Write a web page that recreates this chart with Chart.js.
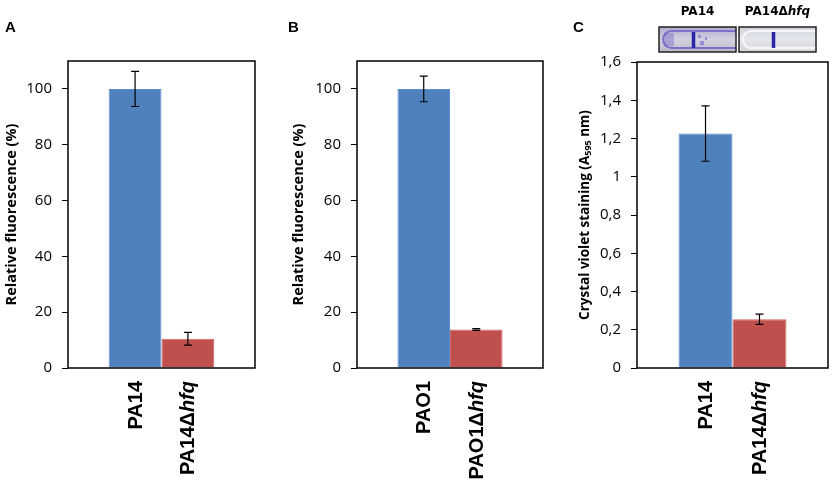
<!DOCTYPE html>
<html>
<head>
<meta charset="utf-8">
<script src="https://cdn.jsdelivr.net/npm/chart.js@4.4.0/dist/chart.umd.min.js"></script>
<style>
  body { margin: 0; background: #fff; }
  #wrap { position: relative; width: 832px; height: 486px; overflow: hidden; }
  canvas { position: absolute; top: 0; }
</style>
</head>
<body>
<div id="wrap">
  <canvas id="chartA" width="280" height="486" style="left:0"></canvas>
  <canvas id="chartB" width="280" height="486" style="left:280px"></canvas>
  <canvas id="chartC" width="272" height="486" style="left:560px"></canvas>
</div>
<script>
// Panel A - fluorescence, PA14
const categoriesA = ['PA14', 'PA14Δhfq'];
const valuesA = [100, 10.5];
const errorsA = [6.3, 2.3];

// Panel B - fluorescence, PAO1
const categoriesB = ['PAO1', 'PAO1Δhfq'];
const valuesB = [100, 13.8];
const errorsB = [4.6, 0.3];

// Panel C - crystal violet staining
const categoriesC = ['PA14', 'PA14Δhfq'];
const valuesC = [1.226, 0.255];
const errorsC = [0.145, 0.027];

const ticksFluor = [0, 20, 40, 60, 80, 100];
const ticksCrystal = [0, 0.2, 0.4, 0.6, 0.8, 1, 1.2, 1.4, 1.6];

const barColors = ['#4f81bd', '#c0504d'];
const barEdges = ['#5c8fd2', '#cf6461'];

Chart.defaults.font.family = 'Open Sans';
Chart.defaults.font.size = 15;
Chart.defaults.color = '#000';

// draw a list of [text, font, dy] pieces one after another
function drawPieces(ctx, pieces, startX, y) {
    let x = startX;
    pieces.forEach(p => {
        ctx.font = p[1];
        ctx.fillText(p[0], x, (y || 0) + (p[2] || 0));
        x += ctx.measureText(p[0]).width;
    });
}

function piecesWidth(ctx, pieces) {
    let w = 0;
    pieces.forEach(p => {
        ctx.font = p[1];
        w += ctx.measureText(p[0]).width;
    });
    return w;
}

// strain name: the part after the delta is the gene, in italics
function strainPieces(name, size, family) {
    const i = name.indexOf('Δ');
    const font = "bold " + size + "px " + (family || "'Liberation Sans'");
    if (i < 0) return [[name, font]];
    return [[name.slice(0, i + 1), font], [name.slice(i + 1), 'italic ' + font]];
}

function drawTube(ctx, x, y, w, h, stained) {
    ctx.save();
    const g = ctx.createLinearGradient(0, y, 0, y + h);
    if (stained) {
        g.addColorStop(0, '#aeaccb');
        g.addColorStop(0.5, '#d3d1e0');
        g.addColorStop(1, '#bcb8c6');
    } else {
        g.addColorStop(0, '#cfd2da');
        g.addColorStop(0.5, '#e4e6eb');
        g.addColorStop(1, '#d3d4da');
    }
    ctx.fillStyle = g;
    ctx.fillRect(x, y, w, h);
    // tube body
    const r = (h - 8) / 2;
    ctx.beginPath();
    ctx.moveTo(x + w, y + 4);
    ctx.lineTo(x + 4 + r, y + 4);
    ctx.arc(x + 4 + r, y + h / 2, r, -Math.PI / 2, Math.PI / 2, true);
    ctx.lineTo(x + w, y + h - 4);
    ctx.strokeStyle = stained ? '#7c70c8' : '#f6f6fa';
    ctx.lineWidth = stained ? 2 : 2.5;
    ctx.stroke();
    if (stained) {
        ctx.fillStyle = 'rgba(100, 80, 200, 0.35)';
        ctx.fillRect(x + 5, y + 6, 10, h - 12);
        ctx.fillStyle = 'rgba(110, 90, 210, 0.55)';
        ctx.fillRect(x + 39, y + 8, 3, 3);
        ctx.fillRect(x + 41, y + 14, 4, 4);
        ctx.fillRect(x + 46, y + 10, 2, 3);
    }
    // ring of stain
    ctx.fillStyle = '#2b24a8';
    const sx = x + w * 0.445;
    ctx.fillRect(sx - 1.5, y + 5, 3.5, h - 9);
    ctx.restore();
    ctx.strokeStyle = '#222';
    ctx.lineWidth = 1.5;
    ctx.strokeRect(x, y, w, h);
}

const panelPlugin = {
    id: 'panel',
    afterDatasetsDraw(chart, args, opts) {
        const ctx = chart.ctx;
        const yScale = chart.scales.y;
        ctx.save();
        ctx.strokeStyle = '#000';
        ctx.lineWidth = 1.2;
        opts.errors.forEach((e, i) => {
            const bar = chart.getDatasetMeta(i).data[0];
            const v = chart.data.datasets[i].data[0];
            const yt = yScale.getPixelForValue(v + e);
            const yb = yScale.getPixelForValue(v - e);
            ctx.beginPath();
            ctx.moveTo(bar.x, yt); ctx.lineTo(bar.x, yb);
            ctx.moveTo(bar.x - 4, yt); ctx.lineTo(bar.x + 4, yt);
            ctx.moveTo(bar.x - 4, yb); ctx.lineTo(bar.x + 4, yb);
            ctx.stroke();
        });
        ctx.restore();
    },
    afterDraw(chart, args, opts) {
        const ctx = chart.ctx;
        const ca = chart.chartArea;
        ctx.save();

        // plot frame
        ctx.strokeStyle = '#000';
        ctx.lineWidth = 1.5;
        ctx.strokeRect(ca.left, ca.top, ca.right - ca.left, ca.bottom - ca.top);

        ctx.fillStyle = '#000';
        ctx.textBaseline = 'middle';
        ctx.textAlign = 'left';

        // rotated strain names under the bars
        opts.categories.forEach((name, i) => {
            const bar = chart.getDatasetMeta(i).data[0];
            const pieces = strainPieces(name, 20);
            const w = piecesWidth(ctx, pieces);
            ctx.save();
            ctx.translate(bar.x + 1, ca.bottom + 13);
            ctx.rotate(-Math.PI / 2);
            drawPieces(ctx, pieces, -w);
            ctx.restore();
        });

        // y axis title
        const tw = piecesWidth(ctx, opts.title);
        ctx.save();
        ctx.translate(opts.titleX, (ca.top + ca.bottom) / 2);
        ctx.rotate(-Math.PI / 2);
        drawPieces(ctx, opts.title, -tw / 2);
        ctx.restore();

        // panel letter
        ctx.textBaseline = 'alphabetic';
        ctx.font = "bold 15px 'Liberation Sans'";
        ctx.fillText(opts.letter, opts.letterX, 32);

        // biofilm tube photos above panel C
        if (opts.tubes) {
            opts.categories.forEach((name, i) => {
                const bx = opts.tubes.x[i];
                drawTube(ctx, bx, opts.tubes.y, opts.tubes.w, opts.tubes.h, i === 0);
                ctx.fillStyle = '#000';
                const pieces = strainPieces(name, 12, "'DejaVu Sans'");
                const w = piecesWidth(ctx, pieces);
                drawPieces(ctx, pieces, bx + opts.tubes.w / 2 - w / 2, 15);
            });
        }
        ctx.restore();
    }
};

function makeChart(id, cats, vals, errs, yMax, tickList, fmt, extra) {
    return new Chart(document.getElementById(id), {
        type: 'bar',
        data: {
            labels: [''],
            datasets: cats.map((c, i) => ({
                label: c,
                data: [vals[i]],
                backgroundColor: barColors[i],
                borderColor: barEdges[i],
                borderWidth: 1,
                barPercentage: 1,
                categoryPercentage: 0.565
            }))
        },
        options: {
            responsive: false,
            animation: false,
            layout: { padding: extra.padding },
            plugins: {
                legend: { display: false },
                tooltip: { enabled: false },
                panel: Object.assign({ categories: cats, errors: errs }, extra.panel)
            },
            scales: {
                x: { display: false },
                y: {
                    min: 0,
                    max: yMax,
                    border: { display: false },
                    grid: { drawOnChartArea: false, drawTicks: true, tickLength: 6, color: '#000', lineWidth: 1 },
                    ticks: {
                        padding: 10,
                        color: '#000',
                        font: { family: 'Open Sans', size: 15 },
                        callback: fmt
                    },
                    afterBuildTicks: s => { s.ticks = tickList.map(v => ({ value: v })); },
                    afterFit: s => { s.width = extra.yWidth; }
                }
            }
        },
        plugins: [panelPlugin]
    });
}

const plainFmt = v => String(v);
const commaFmt = v => String(Math.round(v * 10) / 10).replace('.', ',');

const titleFont = "bold 14.5px 'Open Sans'";

makeChart('chartA', categoriesA, valuesA, errorsA, 110, ticksFluor, plainFmt, {
    padding: { left: 0, top: 61, right: 25, bottom: 118 },
    yWidth: 68,
    panel: { title: [['Relative fluorescence (%)', titleFont]], titleX: 12, letter: 'A', letterX: 5 }
});

makeChart('chartB', categoriesB, valuesB, errorsB, 110, ticksFluor, plainFmt, {
    padding: { left: 0, top: 61, right: 17, bottom: 118 },
    yWidth: 77,
    panel: { title: [['Relative fluorescence (%)', titleFont]], titleX: 19, letter: 'B', letterX: 8 }
});

makeChart('chartC', categoriesC, valuesC, errorsC, 1.6, ticksCrystal, commaFmt, {
    padding: { left: 0, top: 62, right: 4, bottom: 118 },
    yWidth: 77,
    panel: {
        title: [
            ['Crystal violet staining (A', "bold 13.5px 'Open Sans'"],
            ['595', "bold 9px 'Open Sans'", 3],
            [' nm)', "bold 13.5px 'Open Sans'"]
        ],
        titleX: 25,
        letter: 'C',
        letterX: 13,
        tubes: { x: [99, 179], y: 27, w: 77, h: 25 }
    }
});
</script>
</body>
</html>
